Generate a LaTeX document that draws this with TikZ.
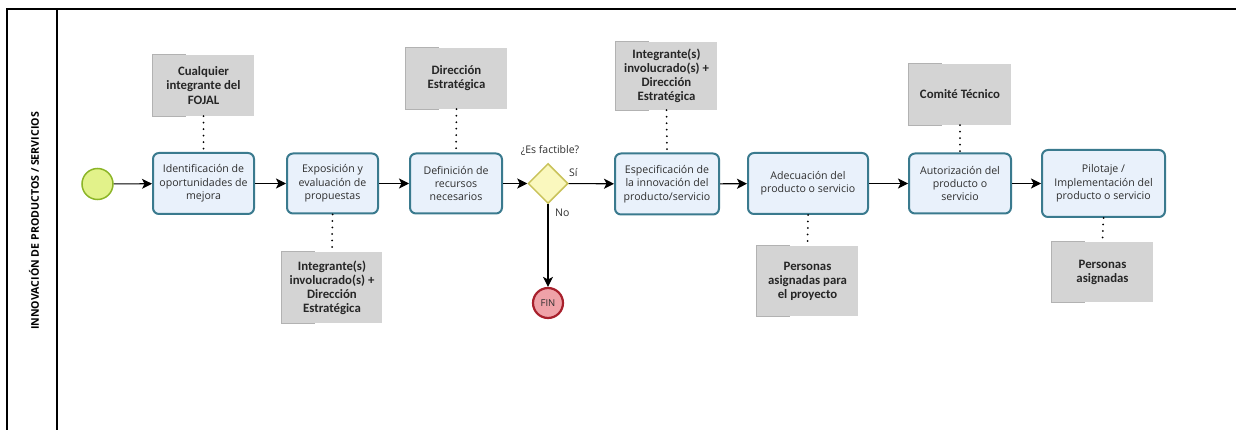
\documentclass[tikz,border=0pt]{standalone}
\usepackage{fontspec}
\setmainfont{Open Sans}
\newfontfamily\annfont{Carlito}
\usetikzlibrary{arrows.meta,shapes.geometric}
\definecolor{taskfill}{HTML}{E9F1FB}
\definecolor{taskdraw}{HTML}{3A7A8E}
\definecolor{startfill}{HTML}{E2F28A}
\definecolor{startdraw}{HTML}{8CB527}
\definecolor{gwfill}{HTML}{FAF8BE}
\definecolor{gwdraw}{HTML}{C9C25A}
\definecolor{endfill}{HTML}{EFA2A8}
\definecolor{enddraw}{HTML}{A8202C}
\definecolor{annfill}{HTML}{D4D4D4}
\definecolor{txt}{HTML}{2E2E2E}
\tikzset{
  task/.style={draw=taskdraw, fill=taskfill, line width=2pt, rounded corners=6pt,
    inner sep=0pt, align=center, text=txt,
    font=\fontsize{10.6}{13.3}\selectfont},
  annot/.style={fill=annfill, inner sep=0pt, align=center, text=black!85,
    font=\annfont\bfseries\fontsize{12.8}{14.1}\selectfont},
  annbr/.style={draw=gray!60, line width=0.7pt},
  assoc/.style={draw=black, line width=2pt, line cap=round, dash pattern=on 0pt off 6.5pt},
  flow/.style={draw=black, line width=1.1pt, -{Stealth[length=10pt,width=10pt,inset=2.5pt]}},
  lbl/.style={text=txt, font=\fontsize{10.5}{12}\selectfont, inner sep=0pt},
}
\begin{document}
\begin{tikzpicture}[x=1pt,y=-1pt]
\useasboundingbox (0,0) rectangle (1236,430);
% pool frame
\draw[line width=1.1pt] (7,430) -- (7,9) -- (1236,9);
\draw[line width=1.1pt] (57,9) -- (57,430);
\node[rotate=90, font=\bfseries\fontsize{10.6}{12}\selectfont, text=black] (lane) at (34,221) {INNOVACIÓN DE PRODUCTOS / SERVICIOS};

% start
\node[circle, draw=startdraw, fill=startfill, line width=1.5pt, minimum size=31pt, inner sep=0pt] (start) at (97.5,184) {};

% tasks
\node[task, minimum width=101pt, minimum height=61pt] (t1) at (203.5,183.5) {Identificación de\\oportunidades de\\mejora};
\node[task, minimum width=91pt, minimum height=60pt] (t2) at (332.5,183.5) {Exposición y\\evaluación de\\propuestas};
\node[task, minimum width=92pt, minimum height=60pt] (t3) at (456,183.5) {Definición de\\recursos\\necesarios};
\node[diamond, draw=gwdraw, fill=gwfill, line width=1.5pt, minimum width=40pt, minimum height=40pt, inner sep=0pt, aspect=1] (gw) at (548,183.5) {};
\node[task, minimum width=104pt, minimum height=61pt] (t4) at (667,184) {Especificación de\\la innovación del\\producto/servicio};
\node[task, minimum width=120pt, minimum height=61pt] (t5) at (808,183.5) {Adecuación del\\producto o servicio};
\node[task, minimum width=102pt, minimum height=60pt] (t6) at (960,183.5) {Autorización del\\producto o\\servicio};
\node[task, minimum width=123pt, minimum height=67pt] (t7) at (1103.5,183.5) {Pilotaje /\\Implementación del\\producto o servicio};

% end
\node[circle, draw=enddraw, fill=endfill, line width=2.2pt, minimum size=30pt, inner sep=0pt, text=txt, font=\fontsize{9.5}{10}\selectfont] (fin) at (548,303) {FIN};

% labels
\node[lbl] (q) at (550,150) {¿Es factible?};
\node[lbl, anchor=west] (si) at (569,173) {Sí};
\node[lbl, anchor=west] (no) at (555,213) {No};

% annotations
\node[annot, minimum width=101pt, minimum height=61pt] (a1) at (203.5,85.5) {Cualquier\\integrante del\\FOJAL};
\node[annot, minimum width=100pt, minimum height=71pt] (a2) at (332,287.5) {Integrante(s)\\involucrado(s) +\\Dirección\\Estratégica};
\node[annot, minimum width=101pt, minimum height=61pt] (a3) at (456.5,78.5) {Dirección\\Estratégica};
\node[annot, minimum width=101pt, minimum height=68pt] (a4) at (666.5,76) {Integrante(s)\\involucrado(s) +\\Dirección\\Estratégica};
\node[annot, minimum width=101pt, minimum height=70pt] (a5) at (807.5,281) {Personas\\asignadas para\\el proyecto};
\node[annot, minimum width=102pt, minimum height=61pt] (a6) at (960,94.5) {Comité Técnico};
\node[annot, minimum width=101pt, minimum height=60pt] (a7) at (1102.5,272) {Personas\\asignadas};
\foreach \a in {a1,a2,a3,a4,a5,a6,a7}{
  \draw[annbr] ([xshift=33pt]\a.north west) -| (\a.south west) -- ([xshift=33pt]\a.south west);
}

% associations
\draw[assoc] (a1.south) -- (t1.north);
\draw[assoc] (t2.south) -- (a2.north);
\draw[assoc] (a3.south) -- (t3.north);
\draw[assoc] (a4.south) -- (t4.north);
\draw[assoc] (t5.south) -- (a5.north);
\draw[assoc] (a6.south) -- (t6.north);
\draw[assoc] (t7.south) -- (a7.north);

% flows
\draw[flow] (start) -- (t1);
\draw[flow] (t1) -- (t2);
\draw[flow] (t2) -- (t3);
\draw[flow] (t3) -- (gw);
\draw[flow] (gw) -- (t4);
\draw[flow] (t4) -- (t5);
\draw[flow] (t5) -- (t6);
\draw[flow] (t6) -- (t7);
\draw[flow] (gw) -- (fin);
\end{tikzpicture}
\end{document}
